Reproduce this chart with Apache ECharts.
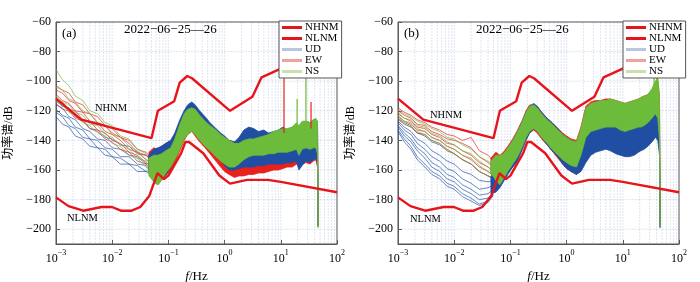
<!DOCTYPE html>
<html>
<head>
<meta charset="utf-8">
<script src="https://cdn.jsdelivr.net/npm/echarts@6/dist/echarts.min.js"></script>
<style>
  html, body { margin: 0; padding: 0; background: #fff; }
  #main { width: 700px; height: 282px; }
</style>
</head>
<body>
<div id="main"></div>
<script>
// 噪声模型 NHNM / NLNM (频率 Hz, dB)
var nhnmF = [0.001, 0.00282, 0.05, 0.065, 0.127, 0.159, 0.217, 0.263, 1.25, 3.125, 4.55, 10, 100];
var nhnmDb = [-111.8, -126.0, -138.5, -120.0, -113.5, -101.0, -96.5, -98.0, -120.0, -110.5, -97.4, -91.5, -74.3];
var nlnmF = [0.001, 0.001667, 0.00305, 0.00649, 0.0099, 0.01429, 0.0222, 0.0316, 0.0457, 0.064, 0.0833, 0.1, 0.167, 0.2, 0.233, 0.417, 0.806, 1.25, 2.5, 5.9, 10, 100];
var nlnmDb = [-178.5, -184.4, -187.5, -185.0, -185.0, -187.5, -187.5, -185.0, -177.5, -162.1, -166.2, -163.8, -149.0, -141.1, -141.1, -148.7, -163.7, -169.2, -166.7, -166.7, -168.0, -175.0];

// 低频段单条曲线
var lowF = [0.001, 0.0013, 0.0017, 0.0022, 0.003, 0.004, 0.0055, 0.0075, 0.01, 0.014, 0.02, 0.028, 0.04, 0.05];
var udLowA = [
  [-113, -117, -118, -124, -126, -132, -133, -138, -139, -143, -144, -149, -150, -153],
  [-116, -118, -124, -126, -132, -134, -139, -140, -145, -146, -150, -151, -156, -155],
  [-119, -123, -125, -131, -133, -139, -140, -145, -146, -151, -151, -156, -157, -161],
  [-121, -124, -130, -132, -138, -139, -145, -146, -151, -152, -156, -157, -161, -160],
  [-124, -129, -131, -137, -139, -144, -145, -150, -151, -156, -156, -161, -161, -164]
];
var ewLowA = [
  [-103, -106, -108, -114, -116, -122, -124, -130, -132, -138, -140, -146, -148, -152],
  [-106, -108, -113, -115, -121, -122, -128, -130, -135, -138, -142, -148, -150, -154],
  [-109, -113, -115, -120, -121, -127, -128, -134, -136, -140, -146, -148, -153, -155],
  [-112, -114, -119, -120, -126, -127, -133, -135, -140, -142, -148, -150, -155, -158],
  [-115, -119, -120, -125, -127, -132, -134, -139, -141, -146, -148, -154, -156, -160]
];
var nsLowA = [
  [-92, -99, -103, -110, -113, -120, -122, -128, -130, -137, -139, -146, -149, -153],
  [-104, -106, -112, -114, -120, -122, -128, -130, -136, -138, -144, -147, -153, -156],
  [-110, -114, -116, -121, -123, -129, -130, -136, -138, -143, -146, -152, -154, -159],
  [-114, -116, -121, -123, -128, -130, -135, -137, -142, -144, -150, -152, -158, -162]
];
var udLowB = [
  [-125, -128, -130, -135, -137, -141, -143, -147, -149, -153, -156, -161, -164, -165],
  [-127, -131, -134, -139, -142, -147, -150, -154, -156, -161, -163, -167, -168, -167],
  [-128, -133, -136, -142, -146, -151, -154, -159, -161, -166, -169, -173, -172, -170],
  [-130, -135, -139, -145, -149, -155, -158, -163, -165, -170, -173, -177, -176, -173],
  [-131, -137, -141, -147, -152, -158, -161, -166, -168, -173, -176, -180, -179, -175],
  [-133, -139, -144, -151, -156, -161, -164, -169, -171, -176, -179, -183, -181, -176],
  [-134, -141, -146, -153, -158, -163, -166, -171, -173, -178, -181, -184, -182, -177]
];
var ewLowB = [
  [-118, -121, -123, -126, -128, -131, -133, -136, -137, -140, -138, -147, -150, -154],
  [-120, -123, -125, -129, -130, -134, -136, -139, -140, -142, -145, -151, -155, -158],
  [-122, -125, -127, -131, -132, -136, -138, -142, -143, -147, -150, -155, -158, -161],
  [-124, -127, -129, -133, -134, -138, -140, -144, -146, -150, -153, -158, -161, -164],
  [-126, -129, -131, -135, -136, -140, -142, -146, -149, -153, -156, -161, -164, -166]
];
var nsLowB = [
  [-119, -122, -124, -127, -129, -132, -134, -138, -139, -143, -146, -151, -154, -157],
  [-121, -125, -126, -130, -131, -135, -137, -141, -143, -147, -149, -154, -158, -161],
  [-123, -127, -128, -132, -134, -138, -140, -144, -146, -150, -152, -157, -161, -164],
  [-125, -129, -131, -134, -136, -140, -142, -147, -149, -153, -156, -161, -164, -167]
];

// 主频带上下包络
var bandF = [0.045, 0.055, 0.065, 0.075, 0.09, 0.11, 0.13, 0.16, 0.19, 0.22, 0.26, 0.3, 0.36, 0.45, 0.55, 0.7, 0.85, 1.0, 1.2, 1.5, 1.8, 2.2, 2.7, 3.3, 4, 5, 6, 7.5, 9, 11, 13, 16, 19, 21, 24, 28, 33, 38, 42, 45, 46];
var udHiA = [-150, -146, -145, -144, -142, -140, -135, -126, -120, -116, -114, -116, -120, -124, -128, -132, -135, -137, -140, -141, -138, -133, -131, -132, -134, -133, -135, -134, -133, -131, -133, -131, -129, -132, -128, -127, -128, -126, -126, -128, -170];
var udLoA = [-160, -166, -168, -166, -163, -158, -152, -143, -137, -133, -131, -133, -137, -141, -145, -150, -153, -157, -160, -160, -159, -158, -158, -158, -157, -157, -156, -156, -156, -156, -155, -155, -154, -160, -157, -154, -155, -153, -152, -155, -198];
var ewHiA = [-148, -145, -146, -144, -142, -140, -136, -128, -121, -118, -117, -118, -122, -126, -130, -133, -136, -138, -140, -141, -140, -138, -137, -137, -138, -137, -138, -137, -136, -135, -136, -135, -134, -136, -133, -132, -133, -132, -131, -134, -175];
var ewLoA = [-162, -168, -170, -167, -164, -160, -155, -147, -140, -136, -134, -137, -141, -145, -149, -154, -158, -161, -163, -165, -164, -164, -163, -163, -162, -162, -161, -160, -160, -159, -158, -158, -156, -158, -156, -155, -156, -154, -153, -158, -198];
var nsHiA = [-152, -150, -150, -149, -147, -145, -139, -129, -122, -119, -118, -119, -123, -127, -130, -133, -136, -138, -140, -142, -142, -140, -139, -139, -138, -137, -136, -134, -133, -132, -132, -131, -128, -130, -127, -127, -128, -126, -125, -127, -178];
var nsLoA = [-164, -168, -170, -167, -162, -158, -153, -146, -139, -136, -134, -136, -140, -144, -147, -151, -154, -156, -158, -158, -156, -153, -151, -150, -150, -150, -149, -149, -148, -148, -148, -147, -146, -150, -146, -145, -146, -145, -145, -149, -199];

var udHiB = [-165, -157, -155, -152, -146, -140, -135, -128, -121, -117, -115, -117, -121, -125, -128, -132, -136, -138, -140, -142, -138, -132, -130, -128, -127, -127, -128, -129, -130, -131, -131, -130, -129, -128, -127, -126, -124, -121, -122, -126, -180];
var udLoB = [-176, -175, -172, -168, -163, -158, -155, -147, -140, -135, -132, -134, -138, -143, -147, -151, -156, -159, -161, -163, -161, -155, -150, -148, -147, -146, -147, -149, -150, -151, -151, -150, -148, -147, -146, -144, -141, -138, -140, -150, -199];
var ewHiB = [-152, -148, -150, -148, -144, -139, -134, -127, -120, -116, -116, -117, -121, -125, -128, -132, -135, -137, -139, -140, -131, -117, -114, -113, -113, -112, -112, -113, -114, -115, -114, -113, -112, -111, -110, -109, -106, -102, -100, -110, -178];
var ewLoB = [-162, -168, -171, -167, -162, -158, -154, -146, -139, -135, -133, -135, -139, -143, -147, -152, -156, -159, -161, -163, -155, -140, -136, -135, -134, -133, -133, -133, -135, -136, -135, -134, -133, -133, -132, -130, -127, -124, -127, -140, -198];
var nsHiB = [-154, -150, -150, -149, -145, -140, -135, -128, -121, -117, -116, -118, -122, -126, -129, -133, -136, -138, -140, -141, -132, -118, -115, -114, -113, -113, -112, -113, -114, -115, -114, -113, -112, -111, -110, -109, -105, -100, -97, -110, -178];
var nsLoB = [-162, -167, -170, -166, -161, -156, -152, -145, -138, -134, -132, -134, -138, -142, -146, -150, -153, -155, -157, -158, -150, -138, -134, -133, -132, -131, -131, -131, -133, -134, -133, -132, -131, -131, -130, -128, -125, -122, -125, -140, -198];

// 尖峰
var spikeFA = [11.4, 19.5, 28, 34.5];
var spikeTopA = [-94, -112, -95, -114];
var spikeBaseA = [-135, -130, -128, -132];
var spikeNameA = ['EW', 'NS', 'NS', 'EW'];
var spikeFB = [36, 41];
var spikeTopB = [-97, -90];
var spikeBaseB = [-110, -110];
var spikeNameB = ['NS', 'NS'];

// 坐标轴刻度
var yTicks = [-200, -180, -160, -140, -120, -100, -80, -60];
var xDecades = [0.001, 0.01, 0.1, 1, 10, 100];

var colors = { UD: '#1f4ea3', EW: '#e8211d', NS: '#6cbb3a', NM: '#e8141c' };
var serif = "'Liberation Serif', 'Times New Roman', 'Noto Sans CJK SC', serif";

var chart = echarts.init(document.getElementById('main'));

// 网格竖线（对数次刻度）
var minorX = [];
for (var d = 0; d < xDecades.length - 1; d++) {
  for (var k = 1; k < 10; k++) minorX.push([xDecades[d] * k, -60]);
}

function gridSeries(idx) {
  return [{
    type: 'custom', xAxisIndex: idx, yAxisIndex: idx, silent: true, z: 1,
    data: minorX,
    renderItem: function (params, api) {
      var p1 = api.coord([api.value(0), -60]);
      var p2 = api.coord([api.value(0), -210]);
      return { type: 'line', shape: { x1: p1[0], y1: p1[1], x2: p2[0], y2: p2[1] },
        style: { stroke: 'rgba(140,160,205,0.35)', lineWidth: 0.8, lineDash: [2, 1] } };
    }
  }, {
    type: 'custom', xAxisIndex: idx, yAxisIndex: idx, silent: true, z: 1,
    data: yTicks.map(function (v) { return [0.001, v]; }),
    renderItem: function (params, api) {
      var p1 = api.coord([0.001, api.value(1)]);
      var p2 = api.coord([100, api.value(1)]);
      return { type: 'line', shape: { x1: p1[0], y1: p1[1], x2: p2[0], y2: p2[1] },
        style: { stroke: 'rgba(140,160,205,0.35)', lineWidth: 0.8, lineDash: [2, 1] } };
    }
  }];
}

function lowSeries(idx, name, traces, op) {
  return traces.map(function (tr) {
    return {
      name: name, type: 'line', xAxisIndex: idx, yAxisIndex: idx, showSymbol: false, silent: true, z: 3,
      data: lowF.map(function (f, i) { return [f, tr[i]]; }),
      lineStyle: { color: colors[name], width: 0.8, opacity: op }
    };
  });
}

function bandSeries(idx, name, hi, lo) {
  return {
    name: name, type: 'custom', xAxisIndex: idx, yAxisIndex: idx, silent: true, z: 4, clip: true,
    itemStyle: { color: colors[name] },
    data: [[bandF[0], hi[0]]],
    renderItem: function (params, api) {
      var pts = [];
      for (var i = 0; i < bandF.length; i++) pts.push(api.coord([bandF[i], hi[i]]));
      for (var j = bandF.length - 1; j >= 0; j--) pts.push(api.coord([bandF[j], lo[j]]));
      return { type: 'polygon', shape: { points: pts },
        style: { fill: colors[name], stroke: colors[name], lineWidth: 0.8 } };
    }
  };
}

function spikeSeries(idx, fs, tops, bases, names) {
  return fs.map(function (f, i) {
    return {
      name: names[i], type: 'line', xAxisIndex: idx, yAxisIndex: idx, showSymbol: false, silent: true, z: 5,
      data: [[f, bases[i]], [f, tops[i]]],
      lineStyle: { color: colors[names[i]], width: 1.2 }
    };
  });
}

function modelSeries(idx) {
  return [{
    name: 'NHNM', type: 'line', xAxisIndex: idx, yAxisIndex: idx, showSymbol: false, silent: true, z: 10,
    data: nhnmF.map(function (f, i) { return [f, nhnmDb[i]]; }),
    lineStyle: { color: colors.NM, width: 2.4 }
  }, {
    name: 'NLNM', type: 'line', xAxisIndex: idx, yAxisIndex: idx, showSymbol: false, silent: true, z: 10,
    data: nlnmF.map(function (f, i) { return [f, nlnmDb[i]]; }),
    lineStyle: { color: colors.NM, width: 2.4 }
  }];
}

function xAxis(idx) {
  return {
    type: 'log', gridIndex: idx, logBase: 10, min: 0.001, max: 100,
    name: '{i|f}/Hz', nameLocation: 'middle', nameGap: 22,
    nameTextStyle: { color: '#000', fontFamily: serif, fontSize: 13, rich: { i: { fontStyle: 'italic', fontFamily: serif, fontSize: 13 } } },
    axisLine: { lineStyle: { color: '#555', width: 1 } },
    axisTick: { inside: true, length: 4, lineStyle: { color: '#555' } },
    splitLine: { show: false },
    axisLabel: {
      color: '#000', margin: 5,
      formatter: function (v) {
        var e = Math.round(Math.log10(v));
        return '{b|10}{s|' + String(e).replace('-', '\u2212') + '}';
      },
      rich: {
        b: { fontFamily: serif, fontSize: 12, lineHeight: 16, verticalAlign: 'bottom' },
        s: { fontFamily: serif, fontSize: 8, lineHeight: 16, verticalAlign: 'top' }
      }
    }
  };
}

function yAxis(idx) {
  return {
    type: 'value', gridIndex: idx, min: -210, max: -60,
    name: '功率谱/dB', nameLocation: 'middle', nameGap: 41,
    nameTextStyle: { color: '#000', fontFamily: serif, fontSize: 12 },
    axisLine: { show: true, lineStyle: { color: '#555', width: 1 } },
    axisTick: { show: true, inside: true, length: 4, customValues: yTicks, lineStyle: { color: '#555' } },
    splitLine: { show: false },
    axisLabel: {
      color: '#000', fontFamily: serif, fontSize: 12, margin: 5, customValues: yTicks,
      formatter: function (v) { return String(v).replace('-', '\u2212'); }
    }
  };
}

function legend(left) {
  return {
    left: left, top: 21, orient: 'vertical', z: 20,
    backgroundColor: '#fff', borderColor: '#555', borderWidth: 1, borderRadius: 0,
    padding: [1, 3, 1, 3], itemGap: 0, itemWidth: 20, itemHeight: 3,
    textStyle: { fontFamily: serif, fontSize: 11, color: '#000', lineHeight: 9.4, padding: [0, 0, 0, -2] },
    data: [
      { name: 'NHNM', icon: 'rect', itemStyle: { color: colors.NM } },
      { name: 'NLNM', icon: 'rect', itemStyle: { color: colors.NM } },
      { name: 'UD', icon: 'rect', itemStyle: { color: '#b8c6e0' } },
      { name: 'EW', icon: 'rect', itemStyle: { color: '#f4a0a0' } },
      { name: 'NS', icon: 'rect', itemStyle: { color: '#c4e2ae' } }
    ]
  };
}

function text(x, y, s, size) {
  return { type: 'text', left: x, top: y, z: 100,
    style: { text: s, fontFamily: serif, fontSize: size, fill: '#000' } };
}

var series = [];
series = series.concat(gridSeries(0), gridSeries(1));
// (a)
series = series.concat(lowSeries(0, 'UD', udLowA, 0.85), lowSeries(0, 'EW', ewLowA, 0.85), lowSeries(0, 'NS', nsLowA, 0.85));
series.push(bandSeries(0, 'EW', ewHiA, ewLoA), bandSeries(0, 'UD', udHiA, udLoA), bandSeries(0, 'NS', nsHiA, nsLoA));
series = series.concat(spikeSeries(0, spikeFA, spikeTopA, spikeBaseA, spikeNameA));
series = series.concat(modelSeries(0));
// (b)
series = series.concat(lowSeries(1, 'UD', udLowB, 0.85), lowSeries(1, 'EW', ewLowB, 0.85), lowSeries(1, 'NS', nsLowB, 0.85));
series.push(bandSeries(1, 'EW', ewHiB, ewLoB), bandSeries(1, 'UD', udHiB, udLoB), bandSeries(1, 'NS', nsHiB, nsLoB));
series = series.concat(spikeSeries(1, spikeFB, spikeTopB, spikeBaseB, spikeNameB));
series = series.concat(modelSeries(1));

var option = {
  backgroundColor: '#fff',
  animation: false,
  grid: [
    { left: 56, top: 22, width: 281, height: 222, show: true, borderColor: '#555', borderWidth: 1, outerBoundsMode: 'none', containLabel: false },
    { left: 398, top: 22, width: 281, height: 222, show: true, borderColor: '#555', borderWidth: 1, outerBoundsMode: 'none', containLabel: false }
  ],
  xAxis: [xAxis(0), xAxis(1)],
  yAxis: [yAxis(0), yAxis(1)],
  legend: [legend(279), legend(623)],
  graphic: [
    text(62, 27, '(a)', 13),
    text(124, 23, '2022\u221206\u221225\u201426', 13),
    text(95, 103, 'NHNM', 10.5),
    text(67, 213, 'NLNM', 10.5),
    text(404, 27, '(b)', 13),
    text(476, 23, '2022\u221206\u221225\u201426', 13),
    text(430, 110, 'NHNM', 10.5),
    text(410, 214, 'NLNM', 10.5)
  ],
  series: series
};

chart.setOption(option);
</script>
</body>
</html>
